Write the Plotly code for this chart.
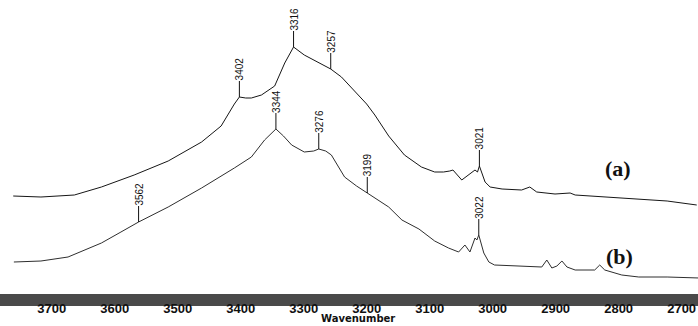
import numpy as np
import plotly.graph_objects as go

# Spectrum (a): wavenumber (cm-1) and relative absorbance (arbitrary units)
wn_a = [3761, 3717, 3664, 3621, 3569, 3515, 3462, 3431, 3410, 3402, 3392, 3383, 3367, 3346,
        3330, 3316, 3299, 3276, 3257, 3240, 3213, 3200, 3187, 3165, 3140, 3113, 3092, 3078,
        3068, 3063, 3049, 3038, 3028, 3024, 3021, 3012, 3004, 2985, 2954, 2941, 2930, 2901,
        2877, 2869, 2822, 2768, 2723, 2676]
ab_a = [110, 109, 111, 119, 131, 145, 164, 180, 202, 209, 208, 208, 211, 220,
        243, 259, 251, 243, 237, 229, 211, 202, 191, 170, 151, 139, 134, 134,
        135, 136, 126, 131, 136, 134, 140, 124, 119, 117, 116, 119, 114, 112,
        113, 111, 109, 107, 105, 101]

# Spectrum (b)
wn_b = [3760, 3717, 3674, 3621, 3590, 3562, 3515, 3462, 3410, 3383, 3362, 3351, 3344, 3332,
        3319, 3299, 3284, 3276, 3265, 3256, 3245, 3235, 3216, 3199, 3165, 3144, 3117, 3092,
        3070, 3054, 3044, 3036, 3028, 3025, 3022, 3014, 3006, 2997, 2954, 2922, 2914, 2906,
        2898, 2890, 2882, 2869, 2838, 2830, 2822, 2795, 2768, 2723, 2672]
ab_b = [44, 45, 49, 63, 74, 84, 99, 118, 138, 149, 166, 173, 177, 170,
        161, 154, 155, 157, 155, 151, 140, 129, 120, 113, 99, 86, 77, 65,
        58, 54, 61, 54, 68, 66, 71, 53, 44, 41, 40, 39, 46, 38,
        40, 45, 39, 36, 36, 41, 36, 31, 29, 29, 28]

# Marked peaks
peaks_a = [3402, 3316, 3257, 3021]
peaks_b = [3562, 3344, 3276, 3199, 3022]

tick_vals = [3700, 3600, 3500, 3400, 3300, 3200, 3100, 3000, 2900, 2800, 2700]
tick_text = [str(v) for v in tick_vals]

fig = go.Figure()
fig.add_trace(go.Scatter(x=wn_a, y=ab_a, mode="lines",
                         line=dict(color="#161616", width=1), showlegend=False))
fig.add_trace(go.Scatter(x=wn_b, y=ab_b, mode="lines",
                         line=dict(color="#2e2e2e", width=1), showlegend=False))

annotations = []
for peaks, wn, ab in ((peaks_a, wn_a, ab_a), (peaks_b, wn_b, ab_b)):
    wx = np.array(wn[::-1], dtype=float)
    ay_ = np.array(ab[::-1], dtype=float)
    for p in peaks:
        yv = float(np.interp(p, wx, ay_))
        annotations.append(dict(
            x=p, y=yv, xref="x", yref="y", text=str(p), textangle=-90,
            showarrow=True, arrowhead=0, arrowwidth=1, arrowcolor="#111",
            ax=0, ay=-28, standoff=0, borderpad=0,
            font=dict(family="Liberation Sans", size=10, color="#111")))

annotations.append(dict(x=0.885, y=(168 - 13) / 319 * 0 + (319 - 168) / 319, xref="paper", yref="paper", text="(a)",
                        showarrow=False, xanchor="center", yanchor="middle",
                        font=dict(family="Liberation Serif", size=22, color="#111", weight="bold")))
annotations.append(dict(x=0.888, y=(319 - 256) / 319, xref="paper", yref="paper", text="(b)",
                        showarrow=False, xanchor="center", yanchor="middle",
                        font=dict(family="Liberation Serif", size=22, color="#111", weight="bold")))
annotations.append(dict(x=0.513, y=-0.0219, xref="paper", yref="paper", text="Wavenumber",
                        showarrow=False, xanchor="center", yanchor="bottom",
                        font=dict(family="DejaVu Sans", size=10, color="#111", weight="bold")))

fig.update_layout(
    width=698, height=326,
    margin=dict(l=0, r=0, t=0, b=7),
    paper_bgcolor="white", plot_bgcolor="white",
    annotations=annotations,
    shapes=[dict(type="rect", xref="paper", yref="y", x0=0, x1=1, y0=0, y1=12,
                 fillcolor="#4a4a4a", line=dict(width=0), layer="below")],
    xaxis=dict(range=[3782, 2674], showgrid=False, zeroline=False, showline=False,
               ticks="", tickvals=tick_vals, ticktext=tick_text, ticklabelposition="inside",
               tickfont=dict(family="Liberation Sans", size=13, color="#111", weight="bold")),
    yaxis=dict(range=[-13, 306], visible=False),
)

fig.write_html("out.html")
